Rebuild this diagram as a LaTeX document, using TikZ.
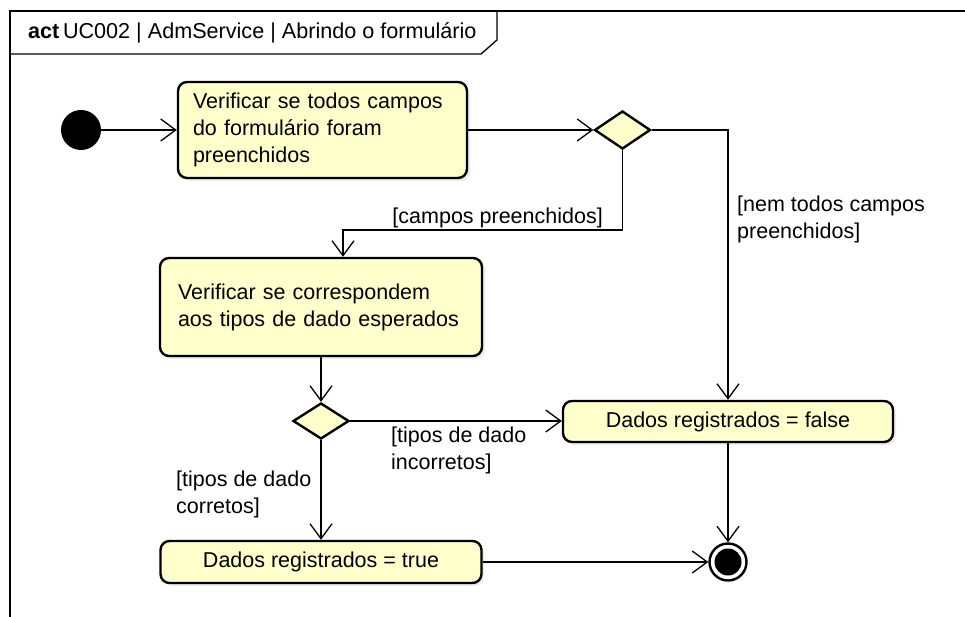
\documentclass[tikz,border=0pt]{standalone}
\usepackage{fontspec}
\setmainfont{Liberation Sans}
\usetikzlibrary{arrows.meta,shapes.geometric}
\definecolor{actfill}{RGB}{255,255,204}
\begin{document}
\begin{tikzpicture}[x=1pt,y=-1pt,
  font=\fontsize{21.5}{27}\selectfont,
  actbox/.style={draw=black, line width=2.4pt, fill=actfill, rounded corners=9pt, inner sep=0pt},
  decbox/.style={diamond, draw=black, line width=2.4pt, fill=actfill, inner sep=0pt},
  conn/.style={line width=1.3pt, -{Straight Barb[length=15pt,width=22pt,line width=1.3pt]}},
  guard/.style={inner sep=0pt, align=left}
]
\useasboundingbox (0,0) rectangle (965,617);
\fill[white] (0,0) rectangle (965,617);
% frame
\draw[line width=2.2pt] (10,617) -- (10,11) -- (965,11);
\draw[line width=1.3pt] (10,54) -- (481,54) -- (497,40) -- (497,11);
\node[inner sep=0pt, anchor=west, font=\fontsize{21.6}{27}\selectfont] (title) at (28,33) {\textbf{act}\,UC002 | AdmService | Abrindo o formulário};

% shadows
\fill[gray!15, rounded corners=9pt] (181,85) rectangle (470,181);
\fill[gray!15, rounded corners=9pt] (163,261) rectangle (485,359);
\fill[gray!15, rounded corners=9pt] (566,404) rectangle (896,445);
\fill[gray!15, rounded corners=9pt] (163,544) rectangle (484,586);

% nodes
\node[circle, fill=black, minimum size=40pt, inner sep=0pt] (init) at (81,130) {};
\node[actbox, minimum width=289pt, minimum height=96pt, text width=259pt, align=left] (b1) at (322.5,130)
  {Verificar se todos campos\\do formulário foram\\preenchidos};
\node[decbox, minimum width=56pt, minimum height=38pt] (d1) at (622.5,130) {};
\node[actbox, minimum width=322pt, minimum height=98pt, text width=286pt, align=left] (b2) at (321,307)
  {Verificar se correspondem\\aos tipos de dado esperados};
\node[decbox, minimum width=56pt, minimum height=36pt] (d2) at (321,421) {};
\node[actbox, minimum width=330pt, minimum height=41pt] (bf) at (728,421.5) {Dados registrados = false};
\node[actbox, minimum width=321pt, minimum height=42pt] (bt) at (321,562) {Dados registrados = true};
\node[circle, draw=black, line width=2.4pt, fill=white, minimum size=37pt, inner sep=0pt] (fin) at (728,562) {};
\node[circle, fill=black, minimum size=27pt, inner sep=0pt] (fincore) at (728,562) {};

% connectors
\coordinate (c1) at (622.5,230);
\coordinate (c2) at (343,230);
\coordinate (c3) at (728,130);
\draw[conn] (init.east) -- (b1.west |- init.east);
\draw[conn] (b1.east) -- (d1.west);
\draw[conn] (d1.east) -- (c3) -- (bf.north);
\draw[conn] (d1.south) -- (c1) -- (c2) -- (c2 |- b2.north);
\draw[conn] (b2.south) -- (d2.north);
\draw[conn] (d2.east) -- (bf.west |- d2.east);
\draw[conn] (d2.south) -- (bt.north);
\draw[conn] (bt.east) -- (fin.west |- bt.east);
\draw[conn] (bf.south) -- (fin.north);

% guards
\node[guard, anchor=east] (g1) at (603,218) {[campos preenchidos]};
\node[guard, anchor=west] (g2) at (737,219) {[nem todos campos\\preenchidos]};
\node[guard, anchor=west] (g3) at (391,450.5) {[tipos de dado\\incorretos]};
\node[guard, anchor=west] (g4) at (176,494.5) {[tipos de dado\\corretos]};
\end{tikzpicture}
\end{document}
